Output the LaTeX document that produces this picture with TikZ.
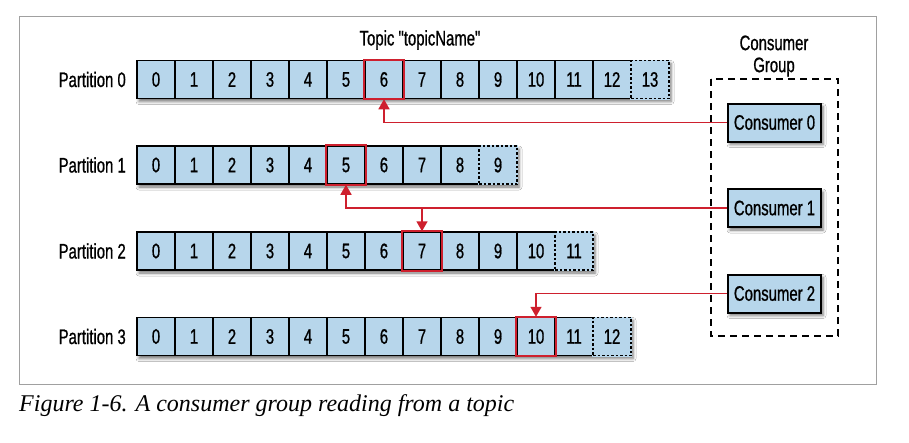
\documentclass[tikz,border=0pt]{standalone}
\usepackage{fontspec}
\setmainfont{Liberation Serif}
\newfontfamily\cond[FakeStretch=0.71,FakeBold=0.8]{Liberation Sans}
\usetikzlibrary{arrows.meta,shadows.blur}
\definecolor{cellblue}{RGB}{183,214,235}
\definecolor{kred}{RGB}{206,32,46}
\definecolor{framegray}{RGB}{160,160,160}
\tikzset{
  lbl/.style={font=\cond\fontsize{21}{22}\selectfont, inner sep=0pt},
  cell/.style={lbl, draw=black, line width=1.5pt, fill=cellblue, minimum width=38pt, minimum height=38pt},
  newcell/.style={cell, dash pattern=on 2.5pt off 2pt, preaction={draw=cellblue, solid, line width=2pt}},
  readbox/.style={draw=kred, line width=1.8pt},
  rowshadow/.style={fill=cellblue, blur shadow={shadow xshift=2pt, shadow yshift=-3pt, shadow blur radius=3pt, shadow opacity=55}},
  consumer/.style={lbl, draw=black, line width=2pt, fill=cellblue, minimum width=93pt, minimum height=38pt,
     blur shadow={shadow xshift=2pt, shadow yshift=-3pt, shadow blur radius=3pt, shadow opacity=55}},
  group/.style={draw=black, line width=2pt, dash pattern=on 7pt off 5pt},
  readarrow/.style={draw=kred, line width=1.6pt, -{Triangle[width=11pt,length=10pt]}},
}
\begin{document}
\begin{tikzpicture}[x=1pt,y=-1pt]
\useasboundingbox (0,0) rectangle (909,442);
\fill[white] (0,0) rectangle (909,442);
\draw[framegray, line width=1pt] (19,16) rectangle (876,384);

\node[lbl] (topic) at (420,40) {Topic "topicName"};

\foreach \r/\y/\n/\hl in {0/79.5/13/6, 1/165/9/5, 2/251/11/7, 3/336.5/12/10}{
  \path[rowshadow] (137,\y-19) rectangle ({137+38*(\n+1)},\y+19);
  \node[lbl, anchor=east] (part\r) at (126,\y) {Partition \r};
  \foreach \i in {0,...,\n}{
    \ifnum\i=\n
      \node[newcell] (p\r-\i) at ({156+38*\i},\y) {\i};
    \else
      \node[cell] (p\r-\i) at ({156+38*\i},\y) {\i};
    \fi
  }
  \draw[readbox] (p\r-\hl.north west) rectangle (p\r-\hl.south east);
}

\draw[group] (711,79) rectangle (838,336);
\node[lbl, align=center] (grouplbl) at (774,56) {Consumer\\Group};

\node[consumer] (c0) at (774.5,122.5) {Consumer 0};
\node[consumer] (c1) at (774.5,208) {Consumer 1};
\node[consumer] (c2) at (774.5,293.5) {Consumer 2};

\draw[readarrow] (c0.west) -| (p0-6.south);
\draw[readarrow] (c1.west) -| (p1-5.south);
\draw[readarrow] (c1.west -| p2-7) -- (p2-7.north);
\draw[readarrow] (c2.west) -| (p3-10.north);

\node[anchor=base west, inner sep=0pt, font=\itshape\fontsize{24}{28}\selectfont] (caption) at (19,411) {Figure 1-6. A consumer group reading from a topic};
\end{tikzpicture}
\end{document}
